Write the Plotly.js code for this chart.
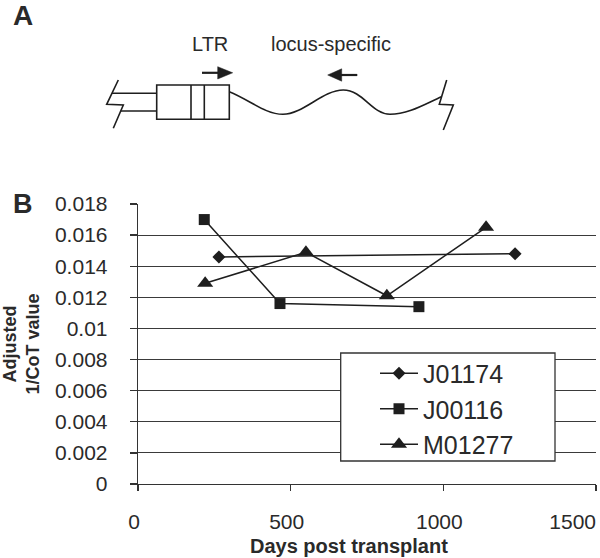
<!DOCTYPE html>
<html>
<head>
<meta charset="utf-8">
<script src="https://cdn.plot.ly/plotly-3.0.1.min.js"></script>
<style>
  html, body { margin: 0; padding: 0; background: #fff; }
  #chart { width: 600px; height: 558px; }
</style>
</head>
<body>
<div id="chart"></div>
<script>
// ---- data ----
const seriesNames = ['J01174', 'J00116', 'M01277'];
const j01174Days = [265, 1235];
const j01174Vals = [0.0146, 0.0148];
const j00116Days = [217, 465, 920];
const j00116Vals = [0.0170, 0.0116, 0.0114];
const m01277Days = [220, 550, 815, 1140];
const m01277Vals = [0.0129, 0.0149, 0.0121, 0.0165];
const yTickVals = [0, 0.002, 0.004, 0.006, 0.008, 0.01, 0.012, 0.014, 0.016, 0.018];
const yTickText = ['0', '0.002', '0.004', '0.006', '0.008', '0.01', '0.012', '0.014', '0.016', '0.018'];
const xTickVals = [0, 500, 1000, 1500];
const xTickText = ['0', '500', '1000', '1500'];
const panelLabels = ['A', 'B'];
const diagramLabels = ['LTR', 'locus-specific'];
const xTitle = 'Days post transplant';
const yTitle = 'Adjusted<br>1/CoT value';

// ---- layout geometry ----
const W = 600, H = 558;
const M = { l: 138, r: 4, t: 204, b: 74 };
const PW = W - M.l - M.r, PH = H - M.t - M.b;
const PX = x => (x - M.l) / PW;          // figure px -> paper x
const PY = y => (H - M.b - y) / PH;      // figure px -> paper y
const ink = '#1e1e1e';
const textCol = '#2a2a2a';
const FONT = 'Liberation Sans, Arial, Helvetica, sans-serif';

function pathOf(cmds) {
  return cmds.map(c => {
    const pts = [];
    for (let i = 1; i < c.length; i += 2) pts.push(PX(c[i]).toFixed(5) + ',' + PY(c[i + 1]).toFixed(5));
    return c[0] + pts.join(' ');
  }).join(' ');
}

const lineShape = (x0, y0, x1, y1, w) => ({
  type: 'line', xref: 'paper', yref: 'paper', layer: 'above',
  x0: PX(x0), y0: PY(y0), x1: PX(x1), y1: PY(y1),
  line: { color: ink, width: w || 1.6 }
});
const pathShape = (p, fill, w) => ({
  type: 'path', xref: 'paper', yref: 'paper', layer: 'above',
  path: p, fillcolor: fill || 'rgba(0,0,0,0)',
  line: { color: ink, width: w === undefined ? 1.6 : w }
});

const shapes = [
  // LTR box
  { type: 'rect', xref: 'paper', yref: 'paper', layer: 'above',
    x0: PX(156.7), y0: PY(85), x1: PX(229.3), y1: PY(119.3),
    line: { color: ink, width: 1.6 }, fillcolor: 'rgba(0,0,0,0)' },
  lineShape(191, 85, 191, 119.3),
  lineShape(204.3, 85, 204.3, 119.3),
  // vector lines to the left
  lineShape(112, 93.3, 156.7, 93.3),
  lineShape(120.7, 111, 156.7, 111),
  // breaks
  pathShape(pathOf([['M', 118.3, 80], ['L', 106.7, 104.3], ['L', 123.3, 105], ['L', 113.3, 128.3]])),
  pathShape(pathOf([['M', 446.7, 80], ['L', 439.3, 104.3], ['L', 453.3, 105], ['L', 443.3, 130]])),
  // genomic wave
  pathShape(pathOf([
    ['M', 229.3, 91.7],
    ['C', 250, 100, 265, 114.3, 283, 114.3],
    ['C', 303, 114.3, 323, 90, 343.3, 90],
    ['C', 363, 90, 372, 114.3, 390, 114.3],
    ['C', 408, 114.3, 425, 104, 441.5, 96.7]
  ])),
  // primer arrows
  lineShape(202, 72.8, 219, 72.8, 2.2),
  pathShape(pathOf([['M', 217.7, 66.7], ['L', 232.7, 72.8], ['L', 217.7, 79], ['Z']]), ink, 0.5),
  lineShape(340, 75, 357.3, 75, 2.2),
  pathShape(pathOf([['M', 327.7, 75], ['L', 341.7, 68.8], ['L', 341.7, 81.2], ['Z']]), ink, 0.5),
  // legend box
  { type: 'rect', xref: 'paper', yref: 'paper', layer: 'above',
    x0: PX(340.7), y0: PY(353), x1: PX(555), y1: PY(461),
    line: { color: '#333', width: 1.3 }, fillcolor: '#ffffff' }
];

const annotations = [
  { text: panelLabels[0], x: PX(23.3), y: PY(15.5), font: { family: FONT, size: 28, color: textCol, weight: 'bold' } },
  { text: panelLabels[1], x: PX(23.3), y: PY(204), font: { family: FONT, size: 27, color: textCol, weight: 'bold' } },
  { text: diagramLabels[0], x: PX(210), y: PY(44), font: { family: FONT, size: 20, color: textCol } },
  { text: diagramLabels[1], x: PX(331), y: PY(44), font: { family: FONT, size: 20, color: textCol } },
  { text: xTitle, x: PX(349), y: PY(546), font: { family: FONT, size: 20, color: textCol, weight: 'bold' } }
].map(a => Object.assign({ xref: 'paper', yref: 'paper', showarrow: false, xanchor: 'center', yanchor: 'middle' }, a));

const lineStyle = { color: ink, width: 1.5 };
const traces = [
  { name: seriesNames[0], x: j01174Days, y: j01174Vals, mode: 'lines+markers', type: 'scatter',
    line: lineStyle, marker: { symbol: 'diamond', size: 10, color: ink } },
  { name: seriesNames[1], x: j00116Days, y: j00116Vals, mode: 'lines+markers', type: 'scatter',
    line: lineStyle, marker: { symbol: 'square', size: 11, color: ink } },
  { name: seriesNames[2], x: m01277Days, y: m01277Vals, mode: 'lines+markers', type: 'scatter',
    line: lineStyle, marker: { symbol: 'triangle-up', size: 14, color: ink } },
  // empty helper trace so that the overlaying axis carrying the last tick label is drawn
  { x: [xTickVals[xTickVals.length - 1]], y: [null], xaxis: 'x2', yaxis: 'y', type: 'scatter',
    mode: 'lines', showlegend: false, hoverinfo: 'skip', line: { width: 0 } }
];

const tickFont = { family: FONT, size: 21, color: textCol };
const layout = {
  width: W, height: H,
  margin: M,
  paper_bgcolor: '#ffffff', plot_bgcolor: '#ffffff',
  font: { family: FONT, color: textCol },
  showlegend: true,
  legend: {
    x: PX(341), y: PY(350.5), xanchor: 'left', yanchor: 'top',
    bgcolor: 'rgba(0,0,0,0)', borderwidth: 0,
    font: { family: FONT, size: 25, color: textCol },
    indentation: 34, itemwidth: 38
  },
  xaxis: {
    range: [0, 1500], tickvals: xTickVals,
    ticktext: xTickText.map((t, i) => i === xTickText.length - 1 ? '' : t),
    showgrid: false, zeroline: false,
    showline: true, linecolor: '#333', linewidth: 1.3,
    ticks: 'outside', ticklen: 6, tickcolor: '#333', tickwidth: 1.3,
    ticklabelstandoff: 12, ticklabelshift: -4,
    tickfont: tickFont
  },
  // last x tick label, kept inside the figure as in the reference
  xaxis2: {
    overlaying: 'x', anchor: 'y', side: 'bottom',
    range: [0, 1500], tickvals: [xTickVals[xTickVals.length - 1]],
    ticktext: [xTickText[xTickText.length - 1]],
    showgrid: false, zeroline: false, showline: false, ticks: '',
    ticklabelposition: 'outside left', ticklabeloverflow: 'allow',
    ticklabelstandoff: 23,
    tickfont: tickFont
  },
  yaxis: {
    range: [0, 0.018], tickvals: yTickVals, ticktext: yTickText,
    showgrid: true, gridcolor: '#3a3a3a', gridwidth: 1.2, zeroline: false,
    showline: true, linecolor: '#333', linewidth: 1.3,
    ticks: 'outside', ticklen: 7, tickcolor: '#333', tickwidth: 1.3,
    ticklabelstandoff: 18,
    tickfont: tickFont,
    title: { text: yTitle, font: { family: FONT, size: 18, color: textCol, weight: 'bold' }, standoff: 14 }
  },
  shapes: shapes,
  annotations: annotations
};

Plotly.newPlot('chart', traces, layout, { displayModeBar: false, staticPlot: true });
</script>
</body>
</html>
